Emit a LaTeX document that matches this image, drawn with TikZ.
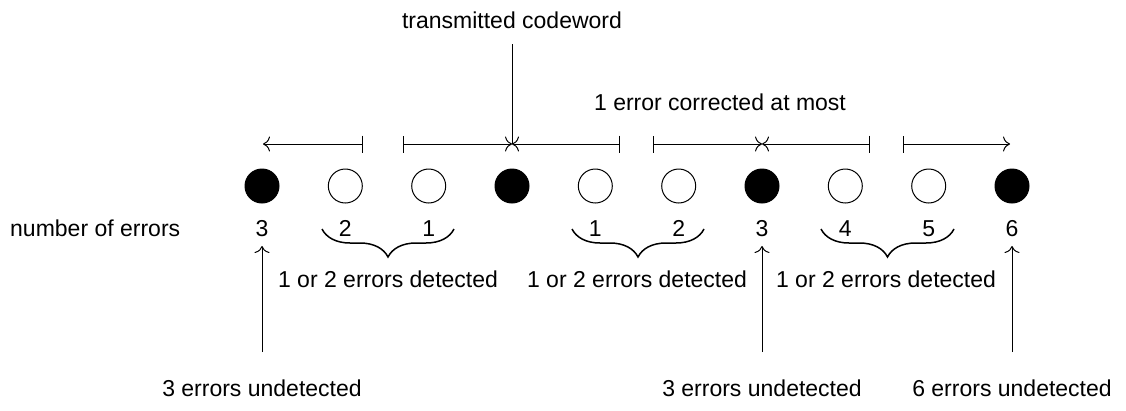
\documentclass[tikz,border=0pt]{standalone}
\usepackage{fontspec}
\setmainfont{Liberation Sans}
\usetikzlibrary{arrows.meta,decorations.pathreplacing}
\begin{document}
\begin{tikzpicture}[x=1pt,y=-1pt,
  every node/.style={font=\fontsize{23}{27}\selectfont, inner sep=0pt},
  dot/.style={circle, draw, line width=1pt, minimum size=34pt, inner sep=0pt},
  full/.style={dot, fill=black},
  hollow/.style={dot, fill=white},
  ln/.style={line width=1pt},
  tip/.style={-{To[length=7pt,width=15pt]}},
  bartip/.style={{Bar[width=17pt]}-{To[length=7pt,width=15pt]}},
  brc/.style={decorate, decoration={brace, mirror, amplitude=28pt}, line width=1.5pt},
  lbl/.style={anchor=base}
]
\useasboundingbox (0,0) rectangle (1126,410);

% codewords / received words
\node[full]   (c0) at (262,186) {};
\node[hollow] (c1) at (345.3,186) {};
\node[hollow] (c2) at (428.7,186) {};
\node[full]   (c3) at (512,186) {};
\node[hollow] (c4) at (595.3,186) {};
\node[hollow] (c5) at (678.7,186) {};
\node[full]   (c6) at (762,186) {};
\node[hollow] (c7) at (845.3,186) {};
\node[hollow] (c8) at (928.7,186) {};
\node[full]   (c9) at (1012,186) {};

% top labels
\node[lbl] (tc) at (512,28) {transmitted codeword};
\node[lbl] (ec) at (720,110) {1 error corrected at most};

% number row
\node[lbl, anchor=base west] (ne) at (10,236) {number of errors};
\node[lbl] (n0) at (262,236) {3};
\node[lbl] (n1) at (345.3,236) {2};
\node[lbl] (n2) at (428.7,236) {1};
\node[lbl] (n4) at (595.3,236) {1};
\node[lbl] (n5) at (678.7,236) {2};
\node[lbl] (n6) at (762,236) {3};
\node[lbl] (n7) at (845.3,236) {4};
\node[lbl] (n8) at (928.7,236) {5};
\node[lbl] (n9) at (1012,236) {6};

% detected labels
\node[lbl] (d1) at (388,287) {1 or 2 errors detected};
\node[lbl] (d2) at (637,287) {1 or 2 errors detected};
\node[lbl] (d3) at (886,287) {1 or 2 errors detected};

% undetected labels
\node[lbl] (u0) at (262,396) {3 errors undetected};
\node[lbl] (u1) at (762,396) {3 errors undetected};
\node[lbl] (u2) at (1012,396) {6 errors undetected};

% transmitted codeword pointer
\coordinate (tcb) at (512,44);
\coordinate (m3) at (512,144);
\draw[ln] (tcb) -- (m3);

% correction range arrows
\coordinate (m0) at (263,144);
\coordinate (b1) at (363,144);
\coordinate (b2) at (403,144);
\coordinate (b3) at (620,144);
\coordinate (b4) at (653,144);
\coordinate (m6) at (762,144);
\coordinate (b5) at (870,144);
\coordinate (b6) at (903,144);
\coordinate (m9) at (1010,144);
\draw[ln,bartip] (b1) -- (m0);
\draw[ln,bartip] (b2) -- (m3);
\draw[ln,bartip] (b3) -- (m3);
\draw[ln,bartip] (b4) -- (m6);
\draw[ln,bartip] (b5) -- (m6);
\draw[ln,bartip] (b6) -- (m9);

% braces
\coordinate (br1a) at (322,229); \coordinate (br1b) at (454,229);
\coordinate (br2a) at (572,229); \coordinate (br2b) at (704,229);
\coordinate (br3a) at (821,229); \coordinate (br3b) at (954,229);
\draw[brc] (br1a) -- (br1b);
\draw[brc] (br2a) -- (br2b);
\draw[brc] (br3a) -- (br3b);

% undetected arrows
\coordinate (s0) at (262,352); \coordinate (t0) at (262,246);
\coordinate (s1) at (762,352); \coordinate (t1) at (762,246);
\coordinate (s2) at (1012,352); \coordinate (t2) at (1012,246);
\draw[ln,tip] (s0) -- (t0);
\draw[ln,tip] (s1) -- (t1);
\draw[ln,tip] (s2) -- (t2);
\end{tikzpicture}
\end{document}
